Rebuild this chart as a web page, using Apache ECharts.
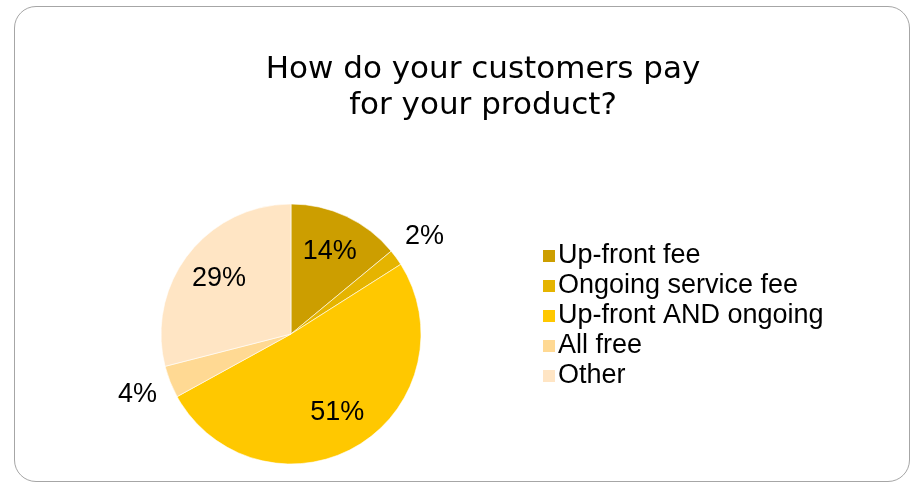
<!DOCTYPE html>
<html>
<head>
<meta charset="utf-8">
<script src="https://cdn.jsdelivr.net/npm/echarts@6/dist/echarts.min.js"></script>
<style>
  html, body { margin: 0; padding: 0; background: #ffffff; }
  #frame {
    position: absolute; left: 14px; top: 6px; width: 896px; height: 476px;
    border: 1px solid #a6a6a6; border-radius: 22px; box-sizing: border-box;
  }
  #chart { position: absolute; left: 0; top: 0; width: 912px; height: 484px; }
</style>
</head>
<body>
<div id="frame"></div>
<div id="chart"></div>
<script>
// Payment model survey breakdown (percent of respondents)
const categories = ['Up-front fee', 'Ongoing service fee', 'Up-front AND ongoing', 'All free', 'Other'];
const shares = [14, 2, 51, 4, 29];
const colors = ['#CC9E00', '#E5B400', '#FFC800', '#FFD993', '#FFE5C4'];
// slices whose percentage sits outside the pie
const outsideLabels = ['Ongoing service fee', 'All free'];

const center = [291, 334];
const pieRadius = 130;
const labelFont = { fontFamily: 'Liberation Sans, Arial, sans-serif', fontSize: 27, color: '#000' };

const pieData = categories.map((name, i) => ({ name, value: shares[i], itemStyle: { color: colors[i] } }));

// transparent helper rings that only carry the percentage labels
function labelRing(radius, keep) {
  return {
    type: 'pie',
    silent: true,
    center: center,
    radius: [0, radius],
    startAngle: 90,
    clockwise: true,
    z: 5,
    data: categories.map((name, i) => ({
      name,
      value: shares[i],
      itemStyle: { color: 'rgba(0,0,0,0)' },
      label: { show: keep(name) }
    })),
    label: Object.assign({ position: 'inside', formatter: '{c}%' }, labelFont),
    labelLine: { show: false },
    emphasis: { disabled: true },
    tooltip: { show: false }
  };
}

const chart = echarts.init(document.getElementById('chart'), null, { renderer: 'canvas' });
chart.setOption({
  animation: false,
  title: {
    text: 'How do your customers pay\nfor your product?',
    left: 478,
    textAlign: 'center',
    top: 47,
    textStyle: {
      fontFamily: 'DejaVu Sans, sans-serif',
      fontWeight: 'normal',
      fontSize: 31,
      lineHeight: 36,
      color: '#000'
    }
  },
  legend: {
    orient: 'vertical',
    left: 536,
    top: 236,
    itemWidth: 14,
    itemHeight: 14,
    itemGap: 0,
    icon: 'rect',
    selectedMode: false,
    data: categories,
    textStyle: Object.assign({ lineHeight: 26, padding: [4, 0, 0, -3] }, labelFont)
  },
  series: [
    {
      type: 'pie',
      name: 'Payment',
      center: center,
      radius: [0, pieRadius],
      startAngle: 90,
      clockwise: true,
      data: pieData,
      itemStyle: { borderColor: '#ffffff', borderWidth: 0.6 },
      label: { show: false },
      labelLine: { show: false },
      emphasis: { disabled: true }
    },
    labelRing(176, n => outsideLabels.indexOf(n) < 0),
    labelRing(324, n => outsideLabels.indexOf(n) >= 0)
  ]
});
</script>
</body>
</html>
